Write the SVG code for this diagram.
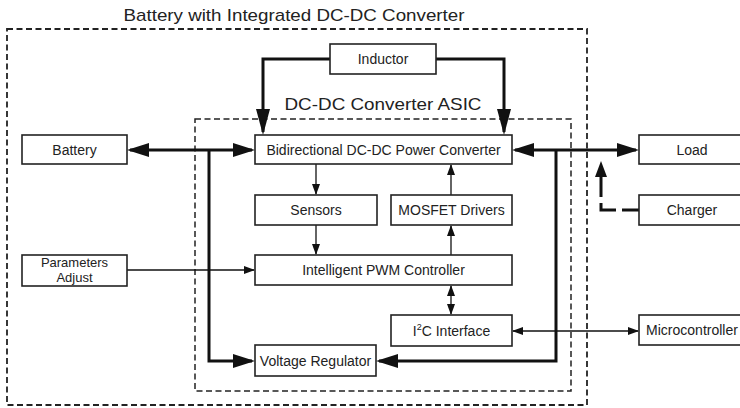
<svg xmlns="http://www.w3.org/2000/svg" width="740" height="408" viewBox="0 0 740 408">
<style>
  .box{fill:#fff;stroke:#222;stroke-width:1.6}
  .t{font-family:"Liberation Sans",Arial,sans-serif;font-size:14px;fill:#222;text-anchor:middle}
  .title{font-family:"Liberation Sans",Arial,sans-serif;font-size:17px;fill:#222;text-anchor:middle}
  .frame{fill:none;stroke:#222;stroke-width:1.8;stroke-dasharray:6,3.5}
  .thick{fill:none;stroke:#111;stroke-width:3}
  .thin{fill:none;stroke:#111;stroke-width:1.3}
  .dash{fill:none;stroke:#111;stroke-width:3;stroke-dasharray:22,6}
</style>
<defs>
  <marker id="big" markerUnits="userSpaceOnUse" markerWidth="22" markerHeight="14" refX="19" refY="7" orient="auto-start-reverse">
    <path d="M0,0 L22,7 L0,14 z" fill="#111"/>
  </marker>
  <marker id="ind" markerUnits="userSpaceOnUse" markerWidth="26" markerHeight="14" refX="23" refY="7" orient="auto-start-reverse">
    <path d="M0,0 L26,7 L0,14 z" fill="#111"/>
  </marker>
  <marker id="mid" markerUnits="userSpaceOnUse" markerWidth="16" markerHeight="12" refX="14" refY="6" orient="auto">
    <path d="M16,0 L0,6 L16,12 z" fill="#111"/>
  </marker>
  <marker id="sm" markerUnits="userSpaceOnUse" markerWidth="11" markerHeight="8" refX="10" refY="4" orient="auto-start-reverse">
    <path d="M0,0 L11,4 L0,8 z" fill="#111"/>
  </marker>
</defs>

<g id="frames">
  <rect class="frame" x="7" y="29" width="580" height="376"/>
  <text class="title" x="294" y="21" textLength="341" lengthAdjust="spacingAndGlyphs">Battery with Integrated DC-DC Converter</text>
  <rect class="frame" x="195" y="119" width="376" height="272" style="stroke-width:1.5"/>
  <text class="title" x="383" y="110" textLength="197" lengthAdjust="spacingAndGlyphs">DC-DC Converter ASIC</text>
</g>

<g id="connectors">
  <path class="thick" d="M330,59 H263 V132" marker-end="url(#ind)"/>
  <path class="thick" d="M436,59 H504 V132" marker-end="url(#ind)"/>
  <path class="thick" d="M130,150 H252" marker-start="url(#big)" marker-end="url(#big)"/>
  <path class="thick" d="M209,150 V361 H252" marker-end="url(#big)"/>
  <path class="thick" d="M515,150 H636" marker-start="url(#big)" marker-end="url(#big)"/>
  <path class="thick" d="M556,150 V361 H379" marker-end="url(#big)"/>
  <path class="dash" d="M601,175 V210 H639" marker-start="url(#mid)"/>
  <path class="thin" d="M316,164 V194" marker-end="url(#sm)"/>
  <path class="thin" d="M316,225 V254" marker-end="url(#sm)"/>
  <path class="thin" d="M451,195 V165" marker-end="url(#sm)"/>
  <path class="thin" d="M451,255 V226" marker-end="url(#sm)"/>
  <path class="thin" d="M451,286 V314" marker-start="url(#sm)" marker-end="url(#sm)"/>
  <path class="thin" d="M127,270 H254" marker-end="url(#sm)"/>
  <path class="thin" d="M513,331 H638" marker-start="url(#sm)" marker-end="url(#sm)"/>
</g>

<g id="inductor"><rect class="box" x="330" y="44" width="106" height="30"/><text class="t" x="383" y="64">Inductor</text></g>
<g id="battery"><rect class="box" x="22" y="135" width="105" height="29"/><text class="t" x="74.5" y="155">Battery</text></g>
<g id="bidir"><rect class="box" x="255" y="135" width="257" height="29"/><text class="t" x="383.5" y="155">Bidirectional DC-DC Power Converter</text></g>
<g id="load"><rect class="box" x="639" y="135" width="107" height="29"/><text class="t" x="692" y="155">Load</text></g>
<g id="charger"><rect class="box" x="639" y="195" width="107" height="30"/><text class="t" x="692" y="215">Charger</text></g>
<g id="sensors"><rect class="box" x="255" y="195" width="122" height="30"/><text class="t" x="316" y="215">Sensors</text></g>
<g id="mosfet"><rect class="box" x="391" y="195" width="121" height="30"/><text class="t" x="451.5" y="215">MOSFET Drivers</text></g>
<g id="params"><rect class="box" x="22" y="255" width="105" height="31"/><text class="t" x="74.5" y="267" style="font-size:13px">Parameters</text><text class="t" x="74.5" y="282" style="font-size:13px">Adjust</text></g>
<g id="pwm"><rect class="box" x="255" y="255" width="257" height="30"/><text class="t" x="383.5" y="275">Intelligent PWM Controller</text></g>
<g id="i2c"><rect class="box" x="391" y="315" width="121" height="31"/><text class="t" x="451.5" y="336">I<tspan font-size="9" dy="-6">2</tspan><tspan dy="6">C Interface</tspan></text></g>
<g id="micro"><rect class="box" x="639" y="315" width="107" height="30"/><text class="t" x="692" y="335">Microcontroller</text></g>
<g id="vreg"><rect class="box" x="255" y="345" width="121" height="31"/><text class="t" x="315.5" y="366">Voltage Regulator</text></g>
</svg>
